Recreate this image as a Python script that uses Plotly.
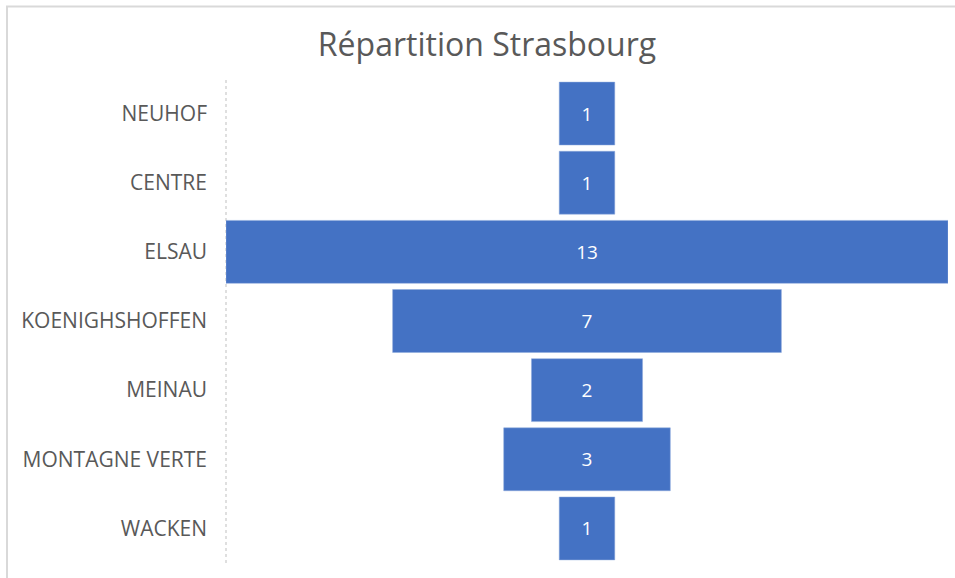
import plotly.graph_objects as go

categories = ["NEUHOF", "CENTRE", "ELSAU", "KOENIGHSHOFFEN", "MEINAU", "MONTAGNE VERTE", "WACKEN"]
values = [1, 1, 13, 7, 2, 3, 1]
title_text = "Répartition Strasbourg"

W, H = 955, 578
L, R, T, B = 226, 7, 79, 15
pw = W - L - R
ph = H - T - B

fig = go.Figure(go.Funnel(
    y=categories,
    x=values,
    textinfo="value",
    textposition="inside",
    insidetextanchor="middle",
    textfont=dict(color="white", size=19, family="Open Sans"),
    marker=dict(color="#4472C4", line=dict(color="#8FAADC", width=0.5)),
    connector=dict(visible=False),
    hoverinfo="y+x",
))

fig.update_layout(
    width=W, height=H,
    margin=dict(l=L, r=R, t=T, b=B),
    paper_bgcolor="white",
    plot_bgcolor="white",
    showlegend=False,
    funnelgap=0.09,
    uniformtext=dict(minsize=8, mode="show"),
    title=dict(text=title_text, x=487 / W, xanchor="center", xref="container",
               y=1 - 45 / H, yanchor="middle", yref="container",
               font=dict(family="Open Sans", size=32, color="#595959")),
    font=dict(family="Open Sans", color="#595959"),
)
fig.update_xaxes(range=[-6.5, 6.5], visible=False, fixedrange=True)
fig.update_yaxes(showline=False, showgrid=False, ticks="", ticklabelstandoff=18,
                 tickfont=dict(family="Open Sans", size=21, color="#595959"))

# dotted category axis line
fig.add_shape(type="line", xref="paper", yref="paper", x0=0, x1=0, y0=0, y1=1,
              line=dict(color="#BFBFBF", width=1, dash="dot"), layer="below")
# chart border (top and left visible)
fig.add_shape(type="rect", xref="paper", yref="paper",
              x0=(7 - L) / pw, x1=(W + 20 - L) / pw,
              y0=-(B + 20) / ph, y1=1 + (T - 6.5) / ph,
              line=dict(color="#D9D9D9", width=2), fillcolor="rgba(0,0,0,0)")

fig.write_html("out.html", config={"displayModeBar": False},
               post_script="document.body.style.margin='0';document.body.style.overflow='hidden';")
